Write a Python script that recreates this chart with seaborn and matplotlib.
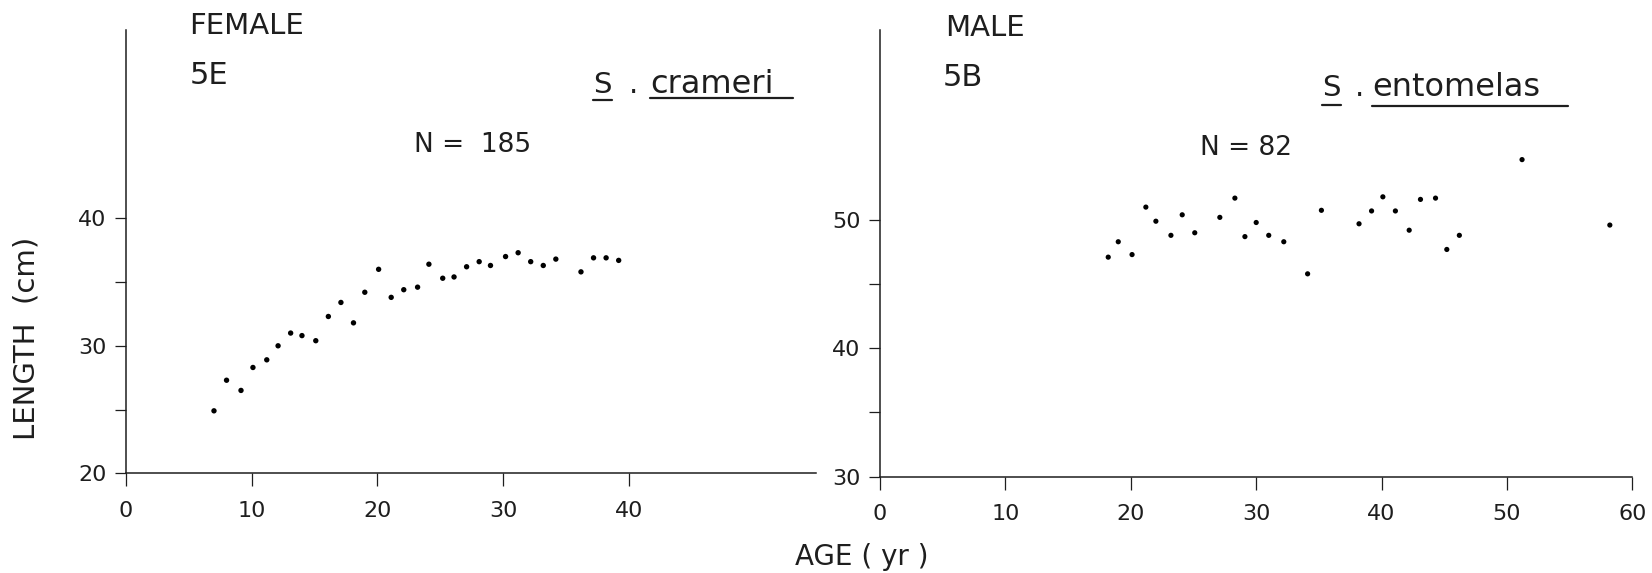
import pandas as pd
import matplotlib.pyplot as plt
from matplotlib.lines import Line2D
import seaborn as sns

# female S. crameri (5E)
fem_age = [7.0, 8.0, 9.15, 10.1, 11.2, 12.1, 13.1, 14.0, 15.1, 16.1, 17.1, 18.1, 19.0, 20.1, 21.1, 22.1,
           23.2, 24.1, 25.2, 26.1, 27.1, 28.1, 29.0, 30.2, 31.2, 32.2, 33.2, 34.2, 36.2, 37.2, 38.2, 39.2]
fem_len = [24.9, 27.3, 26.5, 28.3, 28.9, 30.0, 31.0, 30.8, 30.4, 32.3, 33.4, 31.8, 34.2, 36.0, 33.8, 34.4,
           34.6, 36.4, 35.3, 35.4, 36.2, 36.6, 36.3, 37.0, 37.3, 36.6, 36.3, 36.8, 35.8, 36.9, 36.9, 36.7]

# male S. entomelas (5B)
male_age = [18.2, 19.0, 20.1, 21.2, 22.0, 23.2, 24.1, 25.1, 27.1, 28.3, 29.1, 30.0, 31.0, 32.2, 34.1,
            35.2, 38.2, 39.2, 40.1, 41.1, 42.2, 43.1, 44.3, 45.2, 46.2, 51.2, 58.2]
male_len = [47.1, 48.3, 47.3, 51.0, 49.9, 48.8, 50.4, 49.0, 50.2, 51.7, 48.7, 49.8, 48.8, 48.3, 45.8,
            50.75, 49.7, 50.7, 51.8, 50.7, 49.2, 51.6, 51.7, 47.7, 48.8, 54.7, 49.6]

fem_xticks = [0, 10, 20, 30, 40]
male_xticks = [0, 10, 20, 30, 40, 50, 60]
fem_yticks = [20, 25, 30, 35, 40]
fem_ylabels = ['20', '', '30', '', '40']
male_yticks = [30, 35, 40, 45, 50]
male_ylabels = ['30', '', '40', '', '50']

df_f = pd.DataFrame({'age': fem_age, 'length': fem_len})
df_m = pd.DataFrame({'age': male_age, 'length': male_len})

sns.set_style('ticks')
plt.rcParams['font.family'] = ['DejaVu Sans']

INK = '#1e1e1e'
W, H = 1652, 573

fig = plt.figure(figsize=(16.52, 5.73), dpi=100)
ax1 = fig.add_axes([126 / W, 1 - 473.3 / H, 690 / W, 443.3 / H])
ax2 = fig.add_axes([880 / W, 1 - 476.6 / H, 752.4 / W, 446.6 / H])

sns.scatterplot(data=df_f, x='age', y='length', ax=ax1, color='black', s=15, edgecolor='none', linewidth=0)
sns.scatterplot(data=df_m, x='age', y='length', ax=ax2, color='black', s=14, edgecolor='none', linewidth=0)

ax1.set_xlim(0, 54.9)
ax1.set_ylim(20, 54.77)
ax2.set_xlim(0, 60)
ax2.set_ylim(30, 64.8)

for ax, xt, yt, yl in [(ax1, fem_xticks, fem_yticks, fem_ylabels),
                       (ax2, male_xticks, male_yticks, male_ylabels)]:
    sns.despine(ax=ax)
    for side in ['left', 'bottom']:
        ax.spines[side].set_linewidth(1.1)
        ax.spines[side].set_color(INK)
    ax.set_xticks(xt)
    ax.set_yticks(yt, labels=yl)
    ax.tick_params(axis='x', direction='out', length=9, width=0.9, color=INK,
                   labelsize=16, labelcolor=INK, pad=11)
    ax.tick_params(axis='y', direction='out', length=8, width=0.9, color=INK,
                   labelsize=16, labelcolor=INK, pad=6)
    ax.set_xlabel('')
    ax.set_ylabel('')


def ftext(x, y, s, **kw):
    kw.setdefault('color', INK)
    fig.text(x / W, 1 - y / H, s, **kw)


def uline(x0, x1, y, lw=1.6):
    fig.add_artist(Line2D([x0 / W, x1 / W], [1 - y / H, 1 - y / H], color=INK, lw=lw,
                          transform=fig.transFigure))


# left panel labels
ftext(189, 26, 'FEMALE', fontsize=21, ha='left', va='center')
ftext(190, 75, '5E', fontsize=22, ha='left', va='center')
ftext(593, 93, 'S', fontsize=21, ha='left', va='baseline')
ftext(629, 93, '.', fontsize=21, ha='left', va='baseline')
ftext(650, 93, 'crameri', fontsize=23, ha='left', va='baseline')
uline(593, 612, 100)
uline(650, 793, 98)
ftext(414, 145, 'N =  185', fontsize=19, ha='left', va='center')

# right panel labels
ftext(945, 28, 'MALE', fontsize=21, ha='left', va='center')
ftext(943, 78, '5B', fontsize=22, ha='left', va='center')
ftext(1322, 96, 'S', fontsize=21, ha='left', va='baseline')
ftext(1355, 96, '.', fontsize=21, ha='left', va='baseline')
ftext(1372, 96, 'entomelas', fontsize=23, ha='left', va='baseline')
uline(1322, 1341, 105)
uline(1372, 1568, 106)
ftext(1200, 148, 'N = 82', fontsize=19, ha='left', va='center')

# shared axis labels
ftext(26, 338, 'LENGTH  (cm)', fontsize=21, rotation=90, ha='center', va='center')
ftext(862, 557, 'AGE ( yr )', fontsize=20, ha='center', va='center')

fig.savefig('out.png', dpi=100, facecolor='white')
